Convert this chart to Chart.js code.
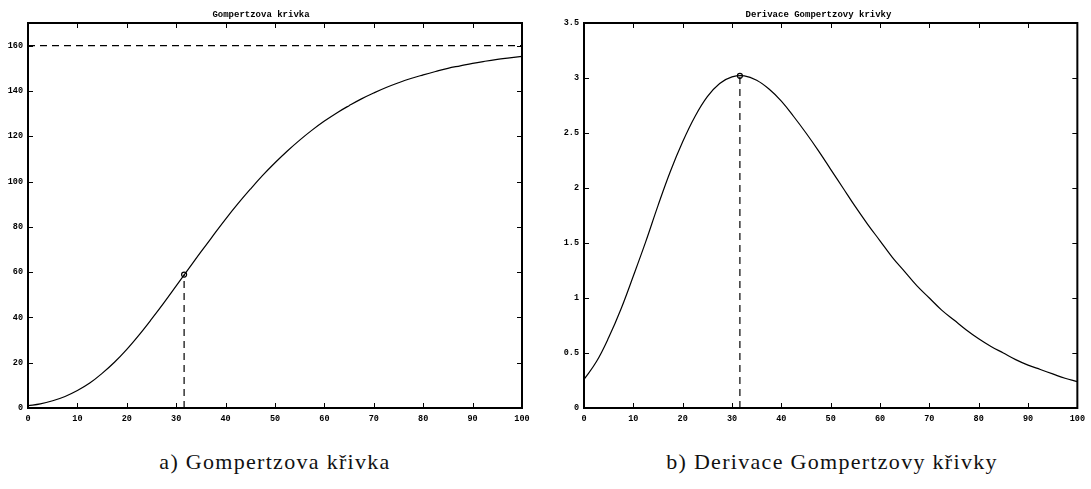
<!DOCTYPE html>
<html>
<head>
<meta charset="utf-8">
<script src="https://cdn.jsdelivr.net/npm/chart.js@4"></script>
<style>
    body { margin: 0; background: #fff; width: 1091px; height: 489px; position: relative; overflow: hidden; }
    canvas { position: absolute; top: 0; }
    #left { left: 0; }
    #right { left: 556px; }
    .caption { position: absolute; top: 449px; font-family: "Liberation Serif", "DejaVu Serif", serif; font-size: 22px; letter-spacing: 1.3px; color: #111; text-align: center; width: 400px; }
</style>
</head>
<body>
<canvas id="left" width="540" height="430"></canvas>
<canvas id="right" width="535" height="430"></canvas>
<div class="caption" style="left: 75px;">a) Gompertzova křivka</div>
<div class="caption" style="left: 632px;">b) Derivace Gompertzovy křivky</div>
<script>
// hodnoty (krok 2.5)
const xValues    = [0, 2.5, 5, 7.5, 10, 12.5, 15, 17.5, 20, 22.5, 25, 27.5, 30, 32.5, 35, 37.5, 40, 42.5, 45, 47.5, 50,
                    52.5, 55, 57.5, 60, 62.5, 65, 67.5, 70, 72.5, 75, 77.5, 80, 82.5, 85, 87.5, 90, 92.5, 95, 97.5, 100];
const gompertz   = [1.0, 1.8, 3.2, 5.1, 7.7, 11.0, 15.3, 20.2, 25.9, 32.3, 39.2, 46.4, 53.9, 61.4, 68.9, 76.2, 83.4, 90.2, 96.6, 102.7, 108.3,
                    113.5, 118.3, 122.7, 126.7, 130.3, 133.5, 136.5, 139.1, 141.5, 143.6, 145.5, 147.1, 148.6, 150.0, 151.1, 152.2, 153.1, 153.9, 154.6, 155.3];
const derivative = [0.26, 0.42, 0.64, 0.90, 1.20, 1.51, 1.84, 2.15, 2.42, 2.65, 2.83, 2.95, 3.01, 3.02, 2.98, 2.90, 2.79, 2.65, 2.50, 2.34, 2.17,
                    2.00, 1.83, 1.67, 1.52, 1.37, 1.24, 1.11, 1.00, 0.89, 0.80, 0.71, 0.63, 0.56, 0.50, 0.44, 0.39, 0.35, 0.31, 0.27, 0.24];

const asymptote = 160;
const inflectionX = 31.6;
const inflectionY = 58.9;
const peakY = 3.02;

const xTicks = [0, 10, 20, 30, 40, 50, 60, 70, 80, 90, 100];
const leftTicks = [0, 20, 40, 60, 80, 100, 120, 140, 160];
const rightTicks = [0, 0.5, 1, 1.5, 2, 2.5, 3, 3.5];

const monoFont = { family: '"Liberation Mono", "DejaVu Sans Mono", monospace', size: 8.5, weight: 'bold' };

// ramecek grafu a ticky dovnitr (na vsech ctyrech stranach)
const framePlugin = {
    id: 'frame',
    afterDatasetsDraw(chart) {
        const { ctx, chartArea: a, scales: { x, y } } = chart;
        ctx.save();
        ctx.strokeStyle = '#000';
        ctx.lineWidth = 1;
        ctx.beginPath();
        x.ticks.forEach(t => {
            const px = Math.round(x.getPixelForValue(t.value)) + 0.5;
            ctx.moveTo(px, a.bottom); ctx.lineTo(px, a.bottom - 5);
            ctx.moveTo(px, a.top); ctx.lineTo(px, a.top + 5);
        });
        y.ticks.forEach(t => {
            const py = Math.round(y.getPixelForValue(t.value)) + 0.5;
            ctx.moveTo(a.left, py); ctx.lineTo(a.left + 5, py);
            ctx.moveTo(a.right, py); ctx.lineTo(a.right - 5, py);
        });
        ctx.stroke();
        ctx.lineWidth = 2;
        ctx.strokeRect(a.left, a.top, a.right - a.left, a.bottom - a.top);
        ctx.restore();
    }
};

function makeChart(id, title, values, yMax, yTicks, markerY, showAsymptote, padRight) {
    const curve = xValues.map((x, i) => ({ x: x, y: values[i] }));
    const datasets = [
        {
            data: curve, borderColor: '#000', borderWidth: 1.2, pointRadius: 0,
            showLine: true, tension: 0.4
        },
        {
            data: [{ x: inflectionX, y: 0 }, { x: inflectionX, y: markerY }],
            borderColor: '#000', borderWidth: 1.2, borderDash: [7, 5], pointRadius: 0, showLine: true
        },
        {
            data: [{ x: inflectionX, y: markerY }],
            pointRadius: 2.5, pointBorderWidth: 1.2, pointBorderColor: '#000', pointBackgroundColor: '#fff', showLine: false
        }
    ];
    if (showAsymptote) {
        datasets.push({
            data: [{ x: 0, y: asymptote }, { x: 100, y: asymptote }],
            borderColor: '#000', borderWidth: 1.2, borderDash: [7, 5], pointRadius: 0, showLine: true
        });
    }

    return new Chart(document.getElementById(id), {
        type: 'scatter',
        data: { datasets: datasets },
        options: {
            responsive: false,
            animation: false,
            layout: { padding: { right: padRight, left: 0, bottom: 0 } },
            plugins: {
                legend: { display: false },
                tooltip: { enabled: false },
                title: {
                    display: true, text: title, color: '#000',
                    font: { ...monoFont, size: 9, lineHeight: 1 },
                    padding: { top: 10, bottom: 4 }
                }
            },
            scales: {
                x: {
                    type: 'linear', min: 0, max: 100,
                    afterBuildTicks: s => { s.ticks = xTicks.map(v => ({ value: v })); },
                    afterFit: s => { s.height = 22; },
                    grid: { display: false, drawTicks: false },
                    border: { display: false },
                    ticks: { color: '#000', font: monoFont, padding: 6, maxRotation: 0, callback: v => String(v) }
                },
                y: {
                    type: 'linear', min: 0, max: yMax,
                    afterBuildTicks: s => { s.ticks = yTicks.map(v => ({ value: v })); },
                    afterFit: s => { s.width = 28; },
                    grid: { display: false, drawTicks: false },
                    border: { display: false },
                    ticks: { color: '#000', font: monoFont, padding: 5, callback: v => String(v) }
                }
            }
        },
        plugins: [framePlugin]
    });
}

makeChart('left', 'Gompertzova krivka', gompertz, 170, leftTicks, inflectionY, true, 18);
makeChart('right', 'Derivace Gompertzovy krivky', derivative, 3.5, rightTicks, peakY, false, 10);
</script>
</body>
</html>
